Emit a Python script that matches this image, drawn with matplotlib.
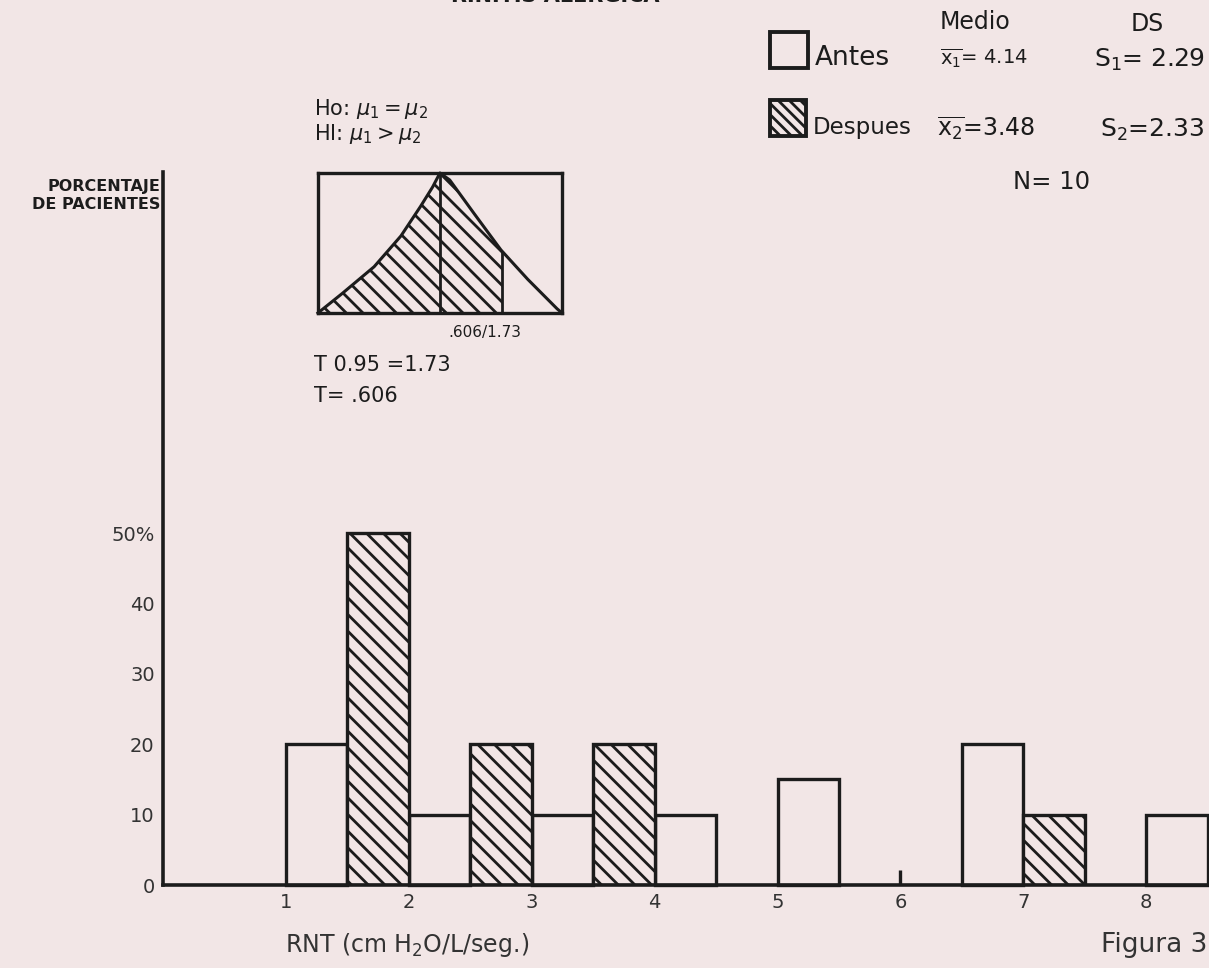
import matplotlib
matplotlib.use("Agg")
import matplotlib.pyplot as plt
from matplotlib.patches import Rectangle
import numpy as np

# datos del histograma (porcentaje de pacientes por intervalo de RNT)
antes_izq = [1, 2, 3, 4, 5, 6.5, 8]
antes_pct = [20, 10, 10, 10, 15, 20, 10]
despues_izq = [1.5, 2.5, 3.5, 7]
despues_pct = [50, 20, 20, 10]
ancho = 0.5

x_ticks = [1, 2, 3, 4, 5, 6, 7, 8]
marca = [6]  # rayita suelta sobre el eje en 6
y_ticks = [0, 10, 20, 30, 40, 50]
y_labels = ["0", "10", "20", "30", "40", "50%"]

# curva del recuadro (distribucion t, dibujada a mano)
curva_x = [0, 0.10, 0.23, 0.34, 0.42, 0.47, 0.5, 0.54, 0.64, 0.75, 0.86, 0.98, 1.0]
curva_y = [0, 0.14, 0.33, 0.55, 0.76, 0.90, 1.0, 0.95, 0.71, 0.45, 0.24, 0.03, 0]
lineas_t = [0.5, 0.754]

fondo = "#f2e6e6"
tinta = "#1c1c1c"
gris = "#333333"
plt.rcParams["mathtext.fontset"] = "dejavusans"
plt.rcParams["hatch.linewidth"] = 2.0
plt.rcParams["hatch.color"] = tinta

fig = plt.figure(figsize=(12.09, 9.68), dpi=100, facecolor=fondo)
ax = fig.add_axes([0.1348, 0.0857, 0.8652, 0.7366])
ax.set_facecolor(fondo)

ax.bar(antes_izq, antes_pct, width=ancho, align="edge", facecolor=fondo,
       edgecolor=tinta, linewidth=2.4, clip_on=False)
ax.bar(despues_izq, despues_pct, width=ancho, align="edge", facecolor=fondo,
       edgecolor=tinta, linewidth=2.4, hatch="\\\\")

ax.set_xlim(0, 8.51)
ax.set_ylim(0, 101.3)
ax.spines["top"].set_visible(False)
ax.spines["right"].set_visible(False)
for s in ["left", "bottom"]:
    ax.spines[s].set_linewidth(2.6)
    ax.spines[s].set_color(tinta)
ax.set_xticks(x_ticks)
ax.set_yticks(y_ticks)
ax.set_yticklabels(y_labels)
ax.tick_params(length=0, labelsize=14, colors=gris, pad=6)
ax.xaxis.remove_overlapping_locs = False
ax.set_xticks(marca, minor=True)
ax.tick_params(which="minor", direction="in", length=11, width=2.4, color=tinta)

# recuadro con la curva t
ax_in = fig.add_axes([0.263, 0.6767, 0.2018, 0.1446])
ax_in.set_facecolor(fondo)
ax_in.plot(curva_x, curva_y, color=tinta, lw=2.2, clip_on=False)
xc = [x for x in curva_x if x < lineas_t[-1]] + [lineas_t[-1]]
yc = [y for x, y in zip(curva_x, curva_y) if x < lineas_t[-1]] + [np.interp(lineas_t[-1], curva_x, curva_y)]
ax_in.fill_between(xc, yc, 0, facecolor="none", edgecolor=tinta, hatch="\\\\", linewidth=0)
ax_in.vlines(lineas_t, 0, np.interp(lineas_t, curva_x, curva_y), color=tinta, lw=2.0)
ax_in.set_xlim(0, 1)
ax_in.set_ylim(0, 1)
ax_in.set_xticks([])
ax_in.set_yticks([])
for s in ax_in.spines.values():
    s.set_linewidth(2.4)
    s.set_color(tinta)

# textos (el titulo queda cortado por arriba, como en el original)
fig.text(0.459, 0.998, "RINITIS ALERGICA", fontsize=15, fontweight="bold",
         color=tinta, ha="center", va="baseline")
fig.text(0.2597, 0.8874, r"Ho: $\mu_1 = \mu_2$", fontsize=15, color=tinta, va="center")
fig.text(0.2597, 0.8616, r"HI: $\mu_1 > \mu_2$", fontsize=15, color=tinta, va="center")
fig.text(0.4012, 0.657, ".606/1.73", fontsize=11, color=tinta, ha="center", va="center")
fig.text(0.2597, 0.6229, "T 0.95 =1.73", fontsize=15, color=tinta, va="center")
fig.text(0.2597, 0.5909, "T= .606", fontsize=15, color=tinta, va="center")
fig.text(0.1323, 0.8078, "PORCENTAJE", fontsize=11.5, fontweight="bold", color=tinta,
         ha="right", va="center")
fig.text(0.1323, 0.7883, "DE PACIENTES", fontsize=11.5, fontweight="bold", color=tinta,
         ha="right", va="center")
fig.text(0.2357, 0.0238, r"RNT (cm H$_2$O/L/seg.)", fontsize=17, color=gris, va="center")
fig.text(0.999, 0.0238, "Figura 3", fontsize=19, color=gris, ha="right", va="center")

# leyenda
fig.add_artist(Rectangle((0.6369, 0.9298), 0.0314, 0.0372, transform=fig.transFigure,
                         facecolor=fondo, edgecolor=tinta, linewidth=2.8))
fig.add_artist(Rectangle((0.6369, 0.8595), 0.0298, 0.0372, transform=fig.transFigure,
                         facecolor=fondo, edgecolor=tinta, linewidth=2.8, hatch="\\\\\\"))
fig.text(0.8065, 0.9773, "Medio", fontsize=17, color=tinta, ha="center", va="center")
fig.text(0.9487, 0.9752, "DS", fontsize=17, color=tinta, ha="center", va="center")
fig.text(0.6741, 0.9401, "Antes", fontsize=19, color=tinta, va="center")
fig.text(0.8503, 0.9401, r"$\overline{\mathrm{x}_1}$= 4.14", fontsize=14, color=tinta,
         ha="right", va="center")
fig.text(0.9967, 0.938, r"S$_1$= 2.29", fontsize=18, color=tinta, ha="right", va="center")
fig.text(0.6725, 0.8678, "Despues", fontsize=16.5, color=tinta, va="center")
fig.text(0.8561, 0.8678, r"$\overline{\mathrm{x}_2}$=3.48", fontsize=17, color=tinta,
         ha="right", va="center")
fig.text(0.9967, 0.8657, r"S$_2$=2.33", fontsize=18, color=tinta, ha="right", va="center")
fig.text(0.8379, 0.812, "N= 10", fontsize=17.5, color=tinta, va="center")

fig.savefig("out.png", dpi=100, facecolor=fondo)
